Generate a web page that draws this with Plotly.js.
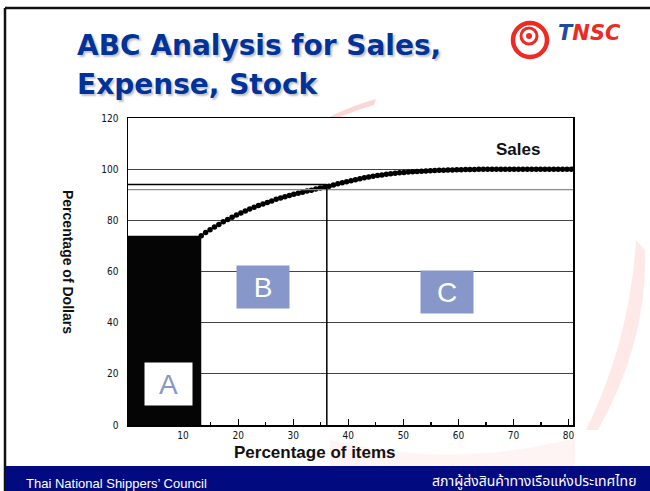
<!DOCTYPE html>
<html>
<head>
<meta charset="utf-8">
<script src="https://cdn.plot.ly/plotly-3.0.1.min.js"></script>
<style>html,body{margin:0;padding:0;background:#fff;}#chart{width:650px;height:491px;}</style>
</head>
<body>
<div id="chart"></div>
<script>
// ---- data ----
const titleLines = ["ABC Analysis for Sales,", "Expense, Stock"];
const xTickVals = [10, 20, 30, 40, 50, 60, 70, 80];
const yTickVals = [0, 20, 40, 60, 80, 100, 120];
const salesItemsPct = [
  13.3, 14.1, 14.9, 15.7, 16.5, 17.3, 18.1, 18.9, 19.7, 20.5, 21.3, 22.1, 22.9, 23.7, 24.5,
  25.3, 26.1, 26.9, 27.7, 28.5, 29.3, 30.1, 30.9, 31.7, 32.5, 33.3, 34.1, 34.9, 35.7,
  36.5, 37.3, 38.1, 38.9, 39.7, 40.5, 41.3, 42.1, 42.9, 43.7, 44.5, 45.3, 46.1, 46.9, 47.7,
  48.5, 49.3, 50.1, 50.9, 51.7, 52.5, 53.3, 54.1, 54.9, 55.7, 56.5, 57.3, 58.1, 58.9, 59.7,
  60.5, 61.3, 62.1, 62.9,
  63.7, 64.5, 65.3, 66.1, 66.9, 67.7, 68.5, 69.3, 70.1, 70.9, 71.7, 72.5, 73.3, 74.1, 74.9,
  75.7, 76.5, 77.3, 78.1, 78.9, 79.7, 80.5
];
const salesDollarsPct = [
  74.0, 75.2, 76.3, 77.4, 78.4, 79.4, 80.3, 81.2, 82.1, 82.9, 83.6, 84.4, 85.1, 85.8, 86.4,
  87.0, 87.6, 88.2, 88.7, 89.2, 89.7, 90.2, 90.6, 91.0, 91.5, 91.8, 92.2, 92.6, 92.9,
  93.3, 93.8, 94.3, 94.7, 95.1, 95.5, 95.9, 96.3, 96.6, 96.9, 97.2, 97.5, 97.7, 98.0, 98.2,
  98.4, 98.6, 98.7, 98.9, 99.0, 99.1, 99.2, 99.3, 99.4, 99.5, 99.6, 99.6, 99.7, 99.7, 99.8,
  99.8, 99.9, 99.9, 99.9,
  100, 100, 100, 100, 100, 100, 100, 100, 100, 100, 100, 100, 100, 100, 100,
  100, 100, 100, 100, 100, 100, 100
];
const classLabels = ["A", "B", "C"];
const classLabelItems = [7.35, 24.5, 57.9];
const classLabelDollars = [16.0, 53.9, 52.1];
const classEdgeItems = [13.3, 36.1];      // A/B and B/C boundaries (% of items)
const classEdgeDollars = [74, 94];        // cumulative % of dollars at the boundaries
const extraRuleDollars = [92];            // grey rule across the whole chart
const seriesName = "Sales";
const footerLeft = "Thai National Shippers\u2019 Council";
const footerRight = "สภาผู้ส่งสินค้าทางเรือแห่งประเทศไทย";

// ---- page geometry helpers (pixels -> paper) ----
const W = 650, H = 491, ML = 128, MR = 77, MT = 118, MB = 66;
const PW = W - ML - MR, PH = H - MT - MB;
const px = v => (v - ML) / PW;
const py = v => (H - MB - v) / PH;

const navy = "#020a80";
const boxBlue = "#8797c9";
const titleBlue = "#003399";

const shapes = [
  // faint red watermark strokes
  {type: "path", xref: "paper", yref: "paper", layer: "below",
   path: `M ${px(326)},${py(119)} Q ${px(345)},${py(108)} ${px(376)},${py(99)} L ${px(374)},${py(105)} Q ${px(350)},${py(112)} ${px(336)},${py(119)} Z`,
   fillcolor: "rgba(240,70,70,0.22)", line: {width: 0}},
  {type: "path", xref: "paper", yref: "paper", layer: "below",
   path: `M ${px(636)},${py(240)} Q ${px(630)},${py(340)} ${px(586)},${py(430)} L ${px(598)},${py(430)} Q ${px(648)},${py(340)} ${px(645)},${py(250)} Z`,
   fillcolor: "rgba(255,90,90,0.14)", line: {width: 0}},
  {type: "path", xref: "paper", yref: "paper", layer: "below",
   path: `M ${px(330)},${py(440)} Q ${px(450)},${py(470)} ${px(575)},${py(438)} L ${px(575)},${py(466)} L ${px(330)},${py(466)} Z`,
   fillcolor: "rgba(255,120,120,0.08)", line: {width: 0}},
  // white plot area on top of the watermark
  {type: "rect", xref: "paper", yref: "paper", layer: "below", x0: 0, x1: 1, y0: 0, y1: 1,
   fillcolor: "#ffffff", line: {width: 0}},
  // slide frame
  {type: "line", xref: "paper", yref: "paper", x0: px(5), x1: px(650), y0: py(8), y1: py(8),
   line: {color: "#111", width: 2.5}},
  {type: "line", xref: "paper", yref: "paper", x0: px(5), x1: px(5), y0: py(8), y1: py(491),
   line: {color: "#111", width: 2.5}},
  // footer band
  {type: "rect", xref: "paper", yref: "paper", x0: px(6), x1: px(650), y0: py(466), y1: py(491),
   fillcolor: navy, line: {width: 0}},
  // logo swirl
  {type: "circle", xref: "paper", yref: "paper", x0: px(513), x1: px(547), y0: py(23), y1: py(57),
   line: {color: "#ee2a24", width: 4.5}},
  {type: "circle", xref: "paper", yref: "paper", x0: px(521), x1: px(537), y0: py(28), y1: py(44),
   line: {color: "#ee2a24", width: 3}},
  {type: "circle", xref: "paper", yref: "paper", x0: px(526), x1: px(532), y0: py(33), y1: py(39),
   fillcolor: "#ee2a24", line: {width: 0}},
  // grey rule across
  {type: "line", xref: "x", yref: "y", x0: 0, x1: 80.8, y0: extraRuleDollars[0], y1: extraRuleDollars[0],
   line: {color: "#8a8a8a", width: 1.2}},
  // class A block
  {type: "rect", xref: "x", yref: "y", layer: "above", x0: 0, x1: classEdgeItems[0], y0: 0, y1: classEdgeDollars[0],
   fillcolor: "#050505", line: {width: 0}},
  // B/C boundary lines
  {type: "line", xref: "x", yref: "y", x0: 0, x1: classEdgeItems[1], y0: classEdgeDollars[1], y1: classEdgeDollars[1],
   line: {color: "#000", width: 1.5}},
  {type: "line", xref: "x", yref: "y", x0: classEdgeItems[1], x1: classEdgeItems[1], y0: 0, y1: classEdgeDollars[1],
   line: {color: "#000", width: 1.5}}
];

const annotations = [];
// title (soft drop shadow like the slide)
titleLines.forEach((t, i) => {
  const yc = i === 0 ? 46 : 85;
  annotations.push({xref: "paper", yref: "paper", x: px(75), y: py(yc), xanchor: "left", yanchor: "middle",
    showarrow: false, text: "<b>" + t + "</b>",
    font: {family: "DejaVu Sans", size: 28, color: titleBlue, shadow: "2px 2px 2px rgba(120,120,120,0.45)"}});
});
// logo text
annotations.push({xref: "paper", yref: "paper", x: px(556), y: py(33), xanchor: "left", yanchor: "middle",
  showarrow: false, text: "<b><i><span style='color:#1f4aa0'>T</span>NSC</i></b>",
  font: {family: "DejaVu Sans", size: 21, color: "#ee2a24"}});
// class labels
classLabels.forEach((c, i) => {
  annotations.push({xref: "x", yref: "y", x: classLabelItems[i], y: classLabelDollars[i],
    xanchor: "center", yanchor: "middle",
    showarrow: false, text: c, width: i === 0 ? 47 : 52, height: 42, borderpad: 0,
    bgcolor: i === 0 ? "#ffffff" : boxBlue, align: "center", valign: "middle",
    font: {family: "Liberation Sans", size: 28, color: i === 0 ? boxBlue : "#ffffff"}});
});
// series label
annotations.push({xref: "x", yref: "y", x: 70.8, y: 107.8, xanchor: "center", yanchor: "middle", showarrow: false,
  text: "<b>" + seriesName + "</b>", font: {family: "Liberation Sans", size: 17, color: "#111"}});
// axis titles
annotations.push({xref: "paper", yref: "paper", x: px(315), y: py(452), xanchor: "center", yanchor: "middle", showarrow: false,
  text: "<b>Percentage of items</b>", font: {family: "Liberation Sans", size: 17, color: "#111"}});
annotations.push({xref: "paper", yref: "paper", x: px(68), y: py(262), xanchor: "center", yanchor: "middle",
  showarrow: false, textangle: 90,
  text: "<b>Percentage of Dollars</b>", font: {family: "Liberation Sans", size: 14, color: "#111"}});
// footer texts
annotations.push({xref: "paper", yref: "paper", x: px(24), y: py(483), xanchor: "left", yanchor: "middle", showarrow: false,
  text: footerLeft, font: {family: "Liberation Sans", size: 13, color: "#ffffff"}});
annotations.push({xref: "paper", yref: "paper", x: px(638), y: py(481), xanchor: "right", yanchor: "middle", showarrow: false,
  text: footerRight, font: {family: "Noto Sans Thai, Noto Sans, DejaVu Sans, sans-serif", size: 14, color: "#ffffff"}});

const traces = [{
  type: "scatter", mode: "markers", name: seriesName,
  x: salesItemsPct, y: salesDollarsPct,
  marker: {color: "#000", size: 5.5},
  hoverinfo: "skip"
}];

const tickFont = {family: "Liberation Sans Narrow, DejaVu Sans Condensed, Liberation Sans", size: 10, color: "#111"};

const layout = {
  width: W, height: H,
  margin: {l: ML, r: MR, t: MT, b: MB, pad: 0},
  paper_bgcolor: "#ffffff", plot_bgcolor: "#ffffff",
  showlegend: false,
  xaxis: {
    range: [0, 80.8], tickvals: xTickVals, ticktext: xTickVals.map(String),
    ticks: "inside", ticklen: 6, tickcolor: "#000", tickwidth: 1.2,
    minor: {tickvals: [5, 15, 25, 35, 45, 55, 65, 75], ticks: "inside", ticklen: 3, tickcolor: "#000"},
    showgrid: false, zeroline: false, showline: true, mirror: true, linecolor: "#000", linewidth: 1.5,
    tickfont: tickFont
  },
  yaxis: {
    range: [0, 120], tickvals: yTickVals, ticktext: yTickVals.map(String),
    ticks: "", ticklabelstandoff: 6,
    showgrid: true, gridcolor: "#444", gridwidth: 1,
    zeroline: false, showline: true, mirror: true, linecolor: "#000", linewidth: 1.5,
    tickfont: tickFont
  },
  shapes: shapes,
  annotations: annotations
};

Plotly.newPlot("chart", traces, layout, {staticPlot: true, displayModeBar: false});
</script>
</body>
</html>
